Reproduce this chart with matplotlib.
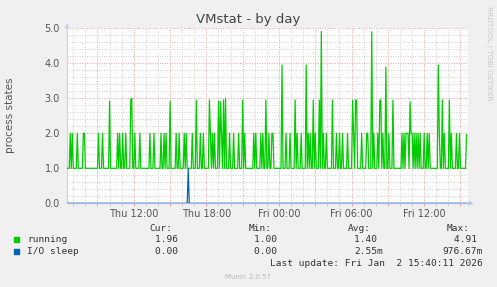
import numpy as np
import pandas as pd
import matplotlib
matplotlib.use('Agg')
import matplotlib.pyplot as plt
import matplotlib.dates as mdates
import matplotlib.ticker as mticker

# Peaks, in hours after Thu 2026-01-01 00:00 (5 minute samples).
# Everything that is not a peak sits on the running baseline of 1.0.
running_peak_hours = [
    6.72, 6.93, 7.30, 7.80, 7.90, 9.12, 9.44, 10.00, 10.68, 10.85, 11.07, 11.32,
    11.75, 11.86, 12.08, 12.49, 13.32, 13.65, 14.23, 14.53, 14.64, 14.99, 15.46,
    15.79, 16.15, 16.34, 16.84, 17.17, 17.50, 17.71, 18.21, 18.32, 18.49, 18.68,
    19.03, 19.17, 19.28, 19.44, 19.58, 19.94, 20.27, 20.63, 20.96, 21.18, 21.92,
    22.12, 22.47, 22.66, 22.94, 23.15, 23.38, 23.54, 24.26, 24.61, 24.94, 25.33,
    25.50, 25.83, 26.24, 26.43, 26.59, 26.81, 26.98, 27.31, 27.52, 27.69, 27.91,
    28.38, 28.79, 29.01, 29.21, 29.67, 30.05, 30.18, 30.30, 30.43, 30.85, 31.21,
    31.37, 31.65, 31.87, 32.14, 32.31, 32.45, 32.55, 32.86, 33.05, 33.38, 34.20,
    34.37, 34.50, 34.58, 34.67, 34.86, 34.92, 35.00, 35.17, 35.33, 35.50, 35.66,
    36.02, 36.26, 36.43, 37.17, 37.28, 37.53, 37.66, 38.05, 38.27, 38.65, 38.93,
    39.50,
]
running_peak_values = [
    2.0, 2.0, 2.0, 2.0, 2.0, 2.0, 2.0, 2.92, 2.0, 2.0, 2.0, 2.0,
    2.97, 3.0, 2.0, 2.0, 2.0, 2.0, 2.0, 2.0, 2.0, 2.92, 2.0,
    2.0, 2.0, 2.0, 2.0, 2.95, 2.0, 2.0, 2.95, 2.0, 2.0, 2.0,
    2.92, 2.9, 2.0, 2.95, 3.0, 2.0, 2.0, 2.0, 2.95, 2.0, 2.0,
    2.0, 2.0, 2.0, 2.95, 2.0, 2.0, 2.0, 3.95, 2.0, 2.0, 2.95,
    2.0, 2.0, 3.95, 2.0, 2.0, 2.95, 2.0, 2.95, 4.91, 2.0, 2.0,
    2.95, 2.0, 2.0, 2.0, 2.0, 2.95, 2.0, 2.95, 2.95, 2.0, 2.0,
    2.0, 4.9, 2.0, 2.0, 2.95, 2.95, 2.0, 3.89, 2.0, 2.95, 2.0,
    2.0, 2.0, 2.0, 2.0, 2.9, 2.0, 2.0, 2.0, 2.0, 2.0, 2.0,
    2.0, 2.0, 2.0, 3.95, 2.0, 2.95, 2.0, 2.95, 2.0, 2.0, 2.0,
    1.96,
]
running_base = 1.0

io_peak_hours = [16.5]
io_peak_values = [0.98]
io_base = 0.0

first_sample_hour = 6.5
last_sample_hour = 39.5
view_hours = (6.48, 39.58)

legend_names = ["running", "I/O sleep"]
legend_colors = ["#00cc00", "#0066b3"]
legend_cur = ["1.96", "0.00"]
legend_min = ["1.00", "0.00"]
legend_avg = ["1.40 ", "2.55m"]
legend_max = ["4.91 ", "976.67m"]

W, H = 497, 287


def px(x, y):
    return x / W, 1 - y / H


def build_series(peak_hours, peak_values, base):
    hours = np.arange(first_sample_hour, last_sample_hour + 1e-9, 1 / 12)
    values = np.full(len(hours), base)
    for h, v in zip(peak_hours, peak_values):
        values[int(round((h - first_sample_hour) * 12))] = v
    return hours, values


def to_time(hours):
    return pd.Timestamp("2026-01-01") + pd.to_timedelta(np.asarray(hours), unit="h")


def main():
    fig = plt.figure(figsize=(W / 100, H / 100), dpi=100, facecolor="#f0f0f0")
    ax = fig.add_axes([67 / W, 1 - 203.3 / H, 400.5 / W, 175 / H])
    ax.set_facecolor("white")

    hours, running = build_series(running_peak_hours, running_peak_values, running_base)
    _, io_sleep = build_series(io_peak_hours, io_peak_values, io_base)
    times = to_time(hours)

    ax.plot(times, running, color=legend_colors[0], linewidth=0.9, zorder=3)
    ax.plot(times, io_sleep, color=legend_colors[1], linewidth=0.9, zorder=3)

    t_lo, t_hi = to_time(view_hours)
    ax.set_xlim(t_lo, t_hi)
    ax.set_ylim(0, 5)

    # x: labels every 6h, red grid every 3h, grey grid every hour
    ax.xaxis.set_major_locator(mdates.HourLocator(byhour=range(0, 24, 3)))
    ax.xaxis.set_minor_locator(mdates.HourLocator())

    def fmt_time(x, pos):
        d = mdates.num2date(x)
        return d.strftime("%a %H:%M") if d.hour % 6 == 0 else ""

    ax.xaxis.set_major_formatter(mticker.FuncFormatter(fmt_time))
    ax.yaxis.set_major_locator(mticker.MultipleLocator(1.0))
    ax.yaxis.set_minor_locator(mticker.MultipleLocator(0.2))
    ax.yaxis.set_major_formatter(mticker.FormatStrFormatter("%.1f"))

    ax.grid(which="minor", color="#cfcfcf", linestyle=(0, (1, 1.5)), linewidth=0.7)
    ax.grid(which="major", color="#eba0a0", linestyle=(0, (1, 1.5)), linewidth=0.7)
    ax.set_axisbelow(True)

    ax.tick_params(which="both", length=0, labelsize=7, labelcolor="#555555")
    ax.tick_params(axis="y", pad=5)
    ax.tick_params(axis="x", which="major", length=2.2, width=0.7,
                   color="#eba0a0", pad=2)
    ax.tick_params(axis="x", which="minor", length=2.2, width=0.7,
                   color="#cfcfcf")

    for side in ["top", "right"]:
        ax.spines[side].set_visible(False)
    ax.spines["left"].set_color("#c8d0f4")
    ax.spines["bottom"].set_color("#9fb4e4")
    ax.spines["left"].set_linewidth(0.8)
    ax.spines["bottom"].set_linewidth(0.8)

    # axis arrows
    ax.annotate("", xy=(1.022, 0), xytext=(0.995, 0), xycoords="axes fraction",
                arrowprops=dict(arrowstyle="-|>", color="#b8c6ee", lw=0.6,
                                mutation_scale=7), annotation_clip=False)
    ax.annotate("", xy=(0, 1.045), xytext=(0, 1.0), xycoords="axes fraction",
                arrowprops=dict(arrowstyle="-|>", color="#c8d0f4", lw=0.6,
                                mutation_scale=7), annotation_clip=False)

    fig.text(*px(248, 19), "VMstat - by day", ha="center", va="center",
             fontsize=9.5, color="#444444")
    fig.text(*px(10, 115), "process states", ha="center", va="center",
             rotation=90, fontsize=7.5, color="#555555")
    fig.text(*px(489, 53), "RRDTOOL / TOBI OETIKER", ha="center", va="center",
             rotation=270, fontsize=5.3, color="#c8c8c8")

    mono = dict(family="DejaVu Sans Mono", fontsize=6.8, color="#333333", va="center")
    for x, head in zip([172, 272, 371, 470], ["Cur:", "Min:", "Avg:", "Max:"]):
        fig.text(*px(x, 228.3), head, ha="right", **mono)

    for i, name in enumerate(legend_names):
        y = 239.7 + i * 11.5
        fig.patches.append(plt.Rectangle(px(14, y + 2.3), 5.3 / W, 4.6 / H,
                                         transform=fig.transFigure,
                                         color=legend_colors[i]))
        fig.text(*px(27, y), name, ha="left", **mono)
        fig.text(*px(184, y), legend_cur[i] + " ", ha="right", **mono)
        fig.text(*px(283, y), legend_min[i] + " ", ha="right", **mono)
        fig.text(*px(383, y), legend_avg[i], ha="right", **mono)
        fig.text(*px(483, y), legend_max[i], ha="right", **mono)

    fig.text(*px(483, 263.7), "Last update: Fri Jan  2 15:40:11 2026", ha="right", **mono)
    fig.text(*px(248, 276.7), "Munin 2.0.57", ha="center", va="center",
             fontsize=5, color="#b8b8b8")

    fig.savefig("out.png", dpi=100, facecolor=fig.get_facecolor())
    print("saved out.png")


if __name__ == "__main__":
    main()
